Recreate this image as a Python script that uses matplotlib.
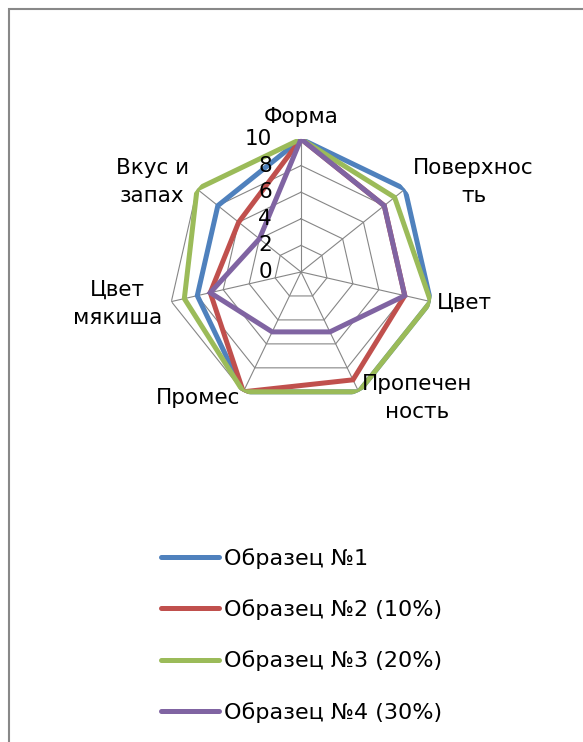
import numpy as np
import matplotlib.pyplot as plt
from matplotlib.patches import Rectangle

plt.rcParams['font.family'] = ['DejaVu Sans']

# categories (clockwise from the top)
categories = ['Форма', 'Поверхнос\nть', 'Цвет', 'Пропечен\nность',
              'Промес', 'Цвет\nмякиша', 'Вкус и\nзапах']
series_names = ['Образец №1', 'Образец №2 (10%)', 'Образец №3 (20%)', 'Образец №4 (30%)']
sample1 = [10, 10, 10, 10, 10, 8, 8]
sample2 = [10, 8, 8, 9, 10, 7, 6]
sample3 = [10, 9, 10, 10, 10, 9, 10]
sample4 = [10, 8, 8, 5, 5, 7, 4]
ticks = [0, 2, 4, 6, 8, 10]

colors = ['#4F81BD', '#C0504D', '#9BBB59', '#8064A2']
grid_color = '#868686'

fig = plt.figure(figsize=(5.83, 7.42), dpi=100)
ax = fig.add_axes([0.2882, 0.4542, 0.4563, 0.3585], projection='polar')
ax.set_theta_offset(np.pi / 2)
ax.set_theta_direction(-1)
ax.set_ylim(0, 10)
ax.grid(False)
ax.spines['polar'].set_visible(False)
ax.set_xticks([])
ax.set_yticks([])
ax.patch.set_alpha(0)

n = len(categories)
angles = np.arange(n) * 2 * np.pi / n
closed = np.append(angles, angles[0])

# polygon grid and spokes
for t in ticks[1:]:
    ax.plot(closed, [t] * (n + 1), color=grid_color, lw=0.8, zorder=1)
for a in angles:
    ax.plot([a, a], [0, 10], color=grid_color, lw=0.8, zorder=1)

# series
for vals, name, c in zip([sample1, sample2, sample3, sample4], series_names, colors):
    v = list(vals) + [vals[0]]
    ax.plot(closed, v, color=c, lw=3.6, label=name, zorder=3,
            solid_joinstyle='miter', solid_capstyle='round')

# radial tick labels along the top axis
for t in ticks:
    ax.annotate(str(t), xy=(0, t), xytext=(-21, 0), textcoords='offset points',
                ha='right', va='center', fontsize=15.5, color='black',
                annotation_clip=False, zorder=4)

# category labels
align = [('center', 'bottom'), ('left', 'center'), ('left', 'center'),
         ('left', 'center'), ('right', 'center'), ('right', 'center'),
         ('right', 'center')]
radii = [10.9, 10.8, 10.5, 10.5, 10.5, 10.7, 10.8]
for a, lab, (ha, va), r in zip(angles, categories, align, radii):
    ax.text(a, r, lab, ha=ha, va=va, fontsize=15.5, multialignment='center',
            linespacing=1.5)

leg = fig.legend(loc='upper left', bbox_to_anchor=(150 / 583, 1 - 537 / 742),
                 frameon=False, fontsize=16, handlelength=2.6,
                 handletextpad=0.25, labelspacing=1.37, borderpad=0)
for line in leg.get_lines():
    line.set_linewidth(3.6)
    line.set_solid_capstyle('round')

# chart border
fig.patches.append(Rectangle((8.5 / 583, -0.01), 1.1, 1 - 9.5 / 742 + 0.01,
                             transform=fig.transFigure, fill=False,
                             edgecolor='#888888', lw=1.5))

fig.savefig('out.png', dpi=100)
